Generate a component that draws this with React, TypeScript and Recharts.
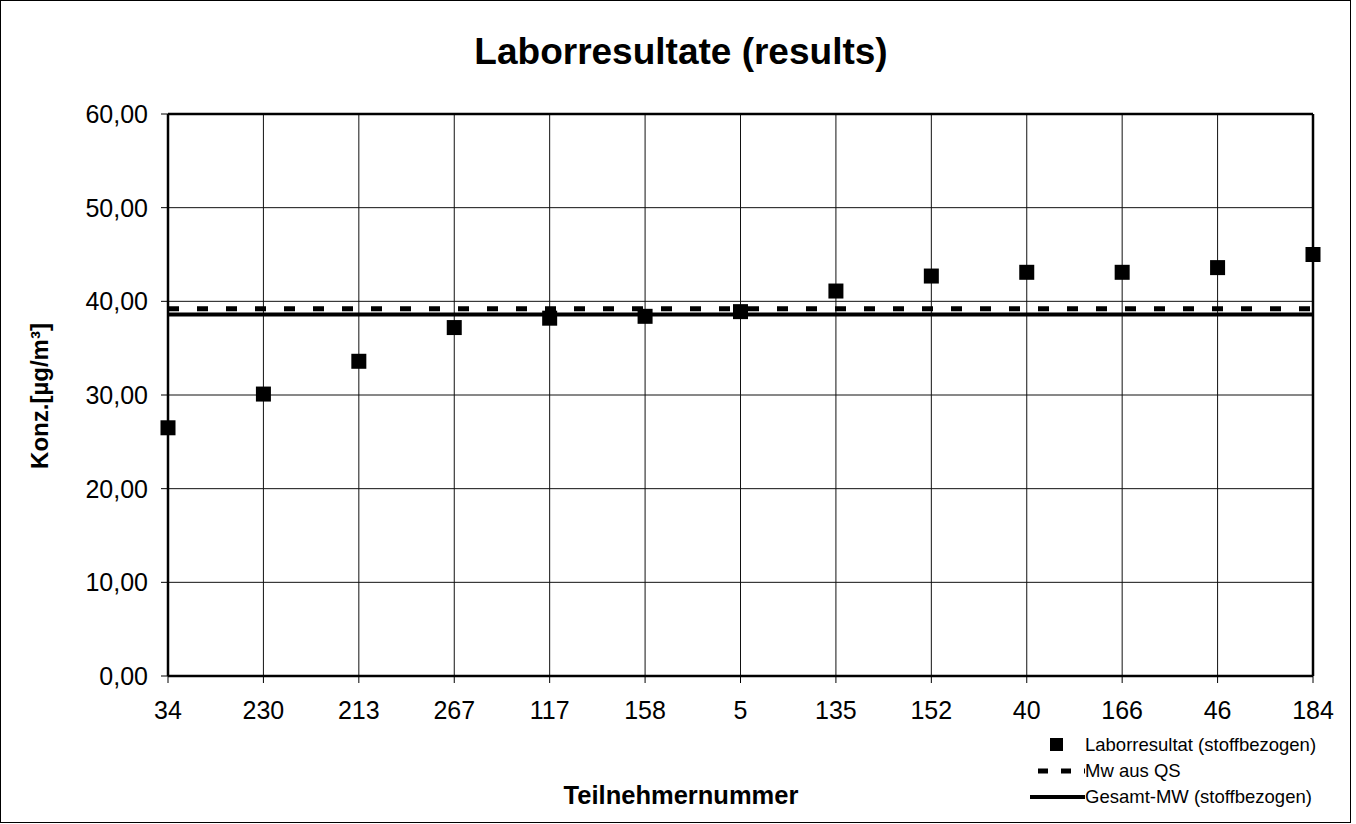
import React from 'react';
import { LineChart, Line, XAxis, YAxis, CartesianGrid, ReferenceLine } from 'recharts';

const participants = ['34', '230', '213', '267', '117', '158', '5', '135', '152', '40', '166', '46', '184'];
const labResults = [26.5, 30.1, 33.6, 37.2, 38.2, 38.4, 38.9, 41.1, 42.7, 43.1, 43.1, 43.6, 45.0];
const mwAusQS = 39.2;
const gesamtMW = 38.6;
const yTicks = [0, 10, 20, 30, 40, 50, 60];

const data = participants.map((id, i) => ({
  id,
  result: labResults[i],
  qs: mwAusQS,
  mean: gesamtMW,
}));

const font = '"Liberation Sans", Arial, sans-serif';

const SquareDot = (props: any) => {
  const { cx, cy } = props;
  if (cx == null || cy == null) return null;
  return <rect x={cx - 7.5} y={cy - 7.5} width={15} height={15} fill="#000" />;
};

const fmt = (v: number) => v.toFixed(2).replace('.', ',');

export default function App() {
  return (
    <div style={{ position: 'relative', width: 1356, height: 824, background: '#fff', fontFamily: font }}>
      <style>{`body{margin:0}`}</style>
      {/* outer frame */}
      <div style={{ position: 'absolute', left: 0, top: 0, width: 1349, height: 821, border: '1px solid #000' }} />

      <div style={{ position: 'absolute', left: 0, width: 1362, top: 30, textAlign: 'center', fontSize: 37, fontWeight: 'bold', lineHeight: '44px' }}>
        Laborresultate (results)
      </div>

      <div style={{ position: 'absolute', left: 40, top: 396, transform: 'translate(-50%, -50%) rotate(-90deg)', fontSize: 24, fontWeight: 'bold', whiteSpace: 'nowrap' }}>
        Konz.[µg/m³]
      </div>

      <div style={{ position: 'absolute', left: 681, top: 795, transform: 'translate(-50%, -50%)', fontSize: 25.5, fontWeight: 'bold', whiteSpace: 'nowrap' }}>
        Teilnehmernummer
      </div>

      <LineChart width={1356} height={824} data={data} margin={{ top: 114, right: 43, bottom: 88, left: 108 }}>
        <CartesianGrid stroke="#111" strokeWidth={1} />
        <XAxis
          dataKey="id"
          interval={0}
          height={60}
          tickSize={7}
          tickMargin={18}
          padding={{ left: 0, right: 0 }}
          axisLine={{ stroke: '#000', strokeWidth: 2.5 }}
          tickLine={{ stroke: '#000' }}
          tick={{ fill: '#000', fontSize: 25, fontFamily: font }}
        />
        <YAxis
          width={60}
          domain={[0, 60]}
          ticks={yTicks}
          tickFormatter={fmt}
          tickSize={7}
          tickMargin={13}
          axisLine={{ stroke: '#000', strokeWidth: 2.5 }}
          tickLine={{ stroke: '#000' }}
          tick={{ fill: '#000', fontSize: 25, fontFamily: font }}
        />
        <ReferenceLine y={60} stroke="#000" strokeWidth={2.5} />
        <ReferenceLine x="184" stroke="#000" strokeWidth={2.5} />
        <Line dataKey="mean" stroke="#000" strokeWidth={4} dot={false} isAnimationActive={false} />
        <Line dataKey="qs" stroke="#000" strokeWidth={5} strokeDasharray="11 18" dot={false} isAnimationActive={false} />
        <Line dataKey="result" stroke="none" dot={<SquareDot />} activeDot={false} isAnimationActive={false} />
      </LineChart>

      {/* legend */}
      <div style={{ position: 'absolute', left: 1030, top: 732, fontSize: 18.5 }}>
        {[
          { label: 'Laborresultat (stoffbezogen)', kind: 'square' },
          { label: 'Mw aus QS', kind: 'dash' },
          { label: 'Gesamt-MW (stoffbezogen)', kind: 'line' },
        ].map((it) => (
          <div key={it.label} style={{ display: 'flex', alignItems: 'center', height: 26 }}>
            <svg width={55} height={26}>
              {it.kind === 'square' && <rect x={20} y={6} width={13} height={13} fill="#000" />}
              {it.kind === 'dash' && <line x1={0} x2={55} y1={13} y2={13} stroke="#000" strokeWidth={5} strokeDasharray="10 13" strokeDashoffset={-8} />}
              {it.kind === 'line' && <line x1={0} x2={55} y1={13} y2={13} stroke="#000" strokeWidth={4} />}
            </svg>
            <span>{it.label}</span>
          </div>
        ))}
      </div>
    </div>
  );
}
